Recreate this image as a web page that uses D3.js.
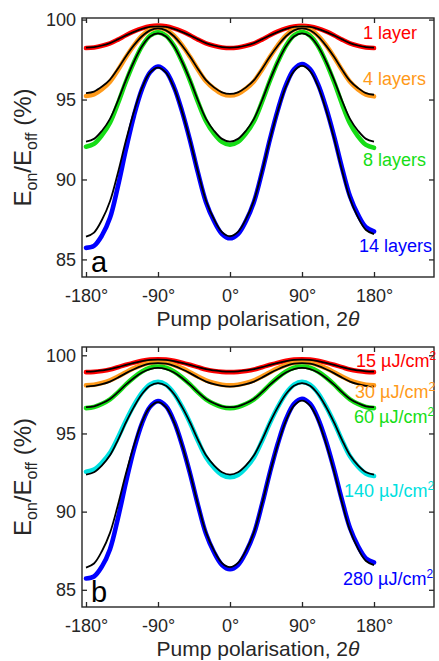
<!DOCTYPE html>
<html><head><meta charset="utf-8">
<script src="https://cdn.jsdelivr.net/npm/d3@7/dist/d3.min.js"></script>
<style>
body{margin:0;background:#fff}
svg{display:block}
text{font-family:"Liberation Sans",Arial,sans-serif}
</style>
</head><body>
<svg id="chart" width="439" height="661"></svg>
<script>
// ---------------- DATA ----------------
const angles = [-180,-170,-160,-150,-140,-130,-120,-110,-100,-90,-80,-70,-60,-50,-40,-30,-20,-10,0,10,20,30,40,50,60,70,80,90,100,110,120,130,140,150,160,170,180];
const xTickValues = [-180,-90,0,90,180];
const xTickLabels = ["-180°","-90°","0°","90°","180°"];
const yTickValues = [85,90,95,100];

// Panel a: layers
const data1 = [98.22,98.26,98.36,98.51,98.75,99.02,99.26,99.45,99.58,99.62,99.58,99.45,99.26,99.02,98.75,98.51,98.36,98.26,98.22,98.26,98.36,98.51,98.75,99.02,99.26,99.45,99.57,99.61,99.57,99.45,99.26,99.02,98.75,98.51,98.36,98.26,98.22];
const fit1  = [98.25,98.28,98.38,98.53,98.76,99.01,99.23,99.42,99.54,99.58,99.54,99.42,99.23,99.01,98.76,98.53,98.38,98.28,98.25,98.28,98.38,98.53,98.76,99.01,99.23,99.42,99.54,99.58,99.54,99.42,99.23,99.01,98.76,98.53,98.38,98.28,98.25];
const data4 = [95.22,95.33,95.65,96.12,96.85,97.66,98.39,98.99,99.37,99.50,99.37,98.99,98.40,97.67,96.87,96.14,95.68,95.36,95.25,95.36,95.68,96.15,96.87,97.68,98.41,99.01,99.39,99.52,99.39,99.00,98.40,97.66,96.84,96.11,95.63,95.31,95.20];
const fit4  = [95.40,95.50,95.81,96.25,96.94,97.71,98.40,98.96,99.33,99.45,99.33,98.96,98.38,97.69,96.91,96.21,95.76,95.45,95.35,95.45,95.76,96.21,96.91,97.69,98.38,98.96,99.33,99.45,99.33,98.95,98.37,97.67,96.88,96.17,95.72,95.40,95.30];
const data8 = [92.05,92.23,92.77,93.55,94.77,96.13,97.34,98.34,98.99,99.20,98.99,98.36,97.37,96.18,94.84,93.65,92.87,92.35,92.17,92.35,92.88,93.65,94.85,96.19,97.39,98.37,99.01,99.22,99.00,98.35,97.34,96.11,94.73,93.50,92.70,92.16,91.98];
const fit8  = [92.37,92.54,93.05,93.79,94.94,96.23,97.38,98.33,98.94,99.14,98.94,98.33,97.38,96.23,94.94,93.79,93.05,92.54,92.37,92.54,93.05,93.79,94.94,96.23,97.38,98.33,98.94,99.14,98.94,98.33,97.38,96.23,94.94,93.79,93.05,92.54,92.37];
const data14 = [85.72,85.85,86.50,87.60,89.60,91.90,94.00,95.65,96.70,97.07,96.75,95.78,94.28,92.45,90.41,88.58,87.40,86.59,86.32,86.59,87.41,88.61,90.46,92.53,94.39,95.91,96.89,97.22,96.91,95.96,94.50,92.72,90.73,88.95,87.80,87.01,86.75];
const fit14  = [86.42,86.68,87.48,88.64,90.44,92.45,94.25,95.73,96.68,97.00,96.68,95.73,94.26,92.46,90.46,88.67,87.51,86.71,86.45,86.72,87.52,88.69,90.50,92.52,94.33,95.82,96.78,97.10,96.78,95.84,94.36,92.58,90.58,88.79,87.63,86.84,86.58];

// Panel b: fluence
const data15 = [98.92,98.94,99.00,99.09,99.24,99.39,99.53,99.65,99.73,99.75,99.73,99.65,99.53,99.39,99.24,99.09,99.00,98.94,98.92,98.94,99.00,99.09,99.24,99.39,99.53,99.65,99.73,99.75,99.73,99.65,99.53,99.39,99.24,99.09,99.00,98.94,98.92];
const fit15  = [98.95,98.97,99.03,99.11,99.24,99.39,99.52,99.63,99.70,99.72,99.70,99.63,99.52,99.39,99.24,99.11,99.03,98.97,98.95,98.97,99.03,99.11,99.24,99.39,99.52,99.63,99.70,99.72,99.70,99.63,99.52,99.39,99.24,99.11,99.03,98.97,98.95];
const data30 = [98.08,98.12,98.23,98.39,98.64,98.92,99.18,99.38,99.52,99.56,99.52,99.38,99.18,98.92,98.64,98.39,98.23,98.12,98.08,98.12,98.23,98.39,98.64,98.92,99.18,99.38,99.52,99.56,99.52,99.38,99.18,98.92,98.64,98.39,98.23,98.12,98.08];
const fit30  = [98.00,98.04,98.15,98.32,98.57,98.86,99.11,99.32,99.46,99.50,99.46,99.32,99.11,98.86,98.57,98.32,98.15,98.04,98.00,98.04,98.15,98.32,98.57,98.86,99.11,99.32,99.46,99.50,99.46,99.32,99.11,98.86,98.57,98.32,98.15,98.04,98.00];
const data60 = [96.62,96.69,96.89,97.18,97.63,98.14,98.59,98.96,99.20,99.28,99.20,98.96,98.59,98.14,97.63,97.18,96.89,96.69,96.62,96.69,96.89,97.18,97.63,98.14,98.59,98.96,99.20,99.28,99.20,98.96,98.59,98.14,97.63,97.18,96.89,96.69,96.62];
const fit60  = [96.68,96.74,96.93,97.21,97.64,98.12,98.55,98.90,99.12,99.20,99.12,98.90,98.55,98.12,97.64,97.21,96.93,96.74,96.68,96.74,96.93,97.21,97.64,98.12,98.55,98.90,99.12,99.20,99.12,98.90,98.55,98.12,97.64,97.21,96.93,96.74,96.68];
const data140 = [92.55,92.69,93.13,93.76,94.74,95.83,96.81,97.61,98.13,98.30,98.12,97.57,96.71,95.68,94.52,93.48,92.81,92.35,92.20,92.35,92.81,93.48,94.52,95.68,96.71,97.57,98.12,98.30,98.12,97.58,96.73,95.71,94.57,93.54,92.88,92.43,92.28];
const fit140  = [92.37,92.52,92.96,93.60,94.59,95.71,96.70,97.52,98.05,98.22,98.05,97.52,96.70,95.71,94.59,93.60,92.96,92.52,92.37,92.52,92.96,93.60,94.59,95.71,96.70,97.52,98.05,98.22,98.05,97.52,96.70,95.71,94.59,93.60,92.96,92.52,92.37];
const data280 = [85.72,85.85,86.50,87.60,89.60,91.90,94.00,95.65,96.70,97.07,96.75,95.78,94.28,92.45,90.41,88.58,87.40,86.59,86.32,86.59,87.41,88.61,90.46,92.53,94.39,95.91,96.89,97.22,96.91,95.96,94.50,92.72,90.73,88.95,87.80,87.01,86.75];
const fit280  = [86.42,86.68,87.48,88.64,90.44,92.45,94.25,95.73,96.68,97.00,96.68,95.73,94.26,92.46,90.46,88.67,87.51,86.71,86.45,86.72,87.52,88.69,90.50,92.52,94.33,95.82,96.78,97.10,96.78,95.84,94.36,92.58,90.58,88.79,87.63,86.84,86.58];

const labelsA = ["1 layer","4 layers","8 layers","14 layers"];
const labelsB = ["15 µJ/cm","30 µJ/cm","60 µJ/cm","140 µJ/cm","280 µJ/cm"];
const colorsA = ["#ff0000","#ff9a1a","#16dd16","#0000ff"];
const colorsB = ["#ff0000","#ff9a1a","#16dd16","#00e0e0","#0000ff"];

// ---------------- DRAW ----------------
const svg = d3.select("#chart");
const ink = "#262626";
const L = 82, R = 434;

const panels = [
  {top:18, bottom:277, ydom:[83.9,100.1], letter:"a",
   series:[[data1,fit1],[data4,fit4],[data8,fit8],[data14,fit14]],
   labels:labelsA, colors:colorsA, sup:false,
   lpos:[[363,39],[363,85],[363,166],[359,252]]},
  {top:347, bottom:607, ydom:[83.9,100.53], letter:"b",
   series:[[data15,fit15],[data30,fit30],[data60,fit60],[data140,fit140],[data280,fit280]],
   labels:labelsB, colors:colorsB, sup:true,
   lpos:[[356,367],[355,398],[354,423],[344,497],[343,585]]}
];

panels.forEach(p => {
  const x = d3.scaleLinear().domain([-185,255]).range([L,R]);
  const y = d3.scaleLinear().domain(p.ydom).range([p.bottom,p.top]);
  const g = svg.append("g");
  const line = d3.line().x((d,j)=>x(angles[j])).y(d=>y(d)).curve(d3.curveCatmullRom);

  p.series.forEach((s,i) => {
    g.append("path").attr("d", line(s[0])).attr("fill","none")
      .attr("stroke", p.colors[i]).attr("stroke-width",4.6).attr("stroke-linecap","round")
      .attr("stroke-linejoin","round");
  });
  p.series.forEach((s,i) => {
    g.append("path").attr("d", line(s[1])).attr("fill","none")
      .attr("stroke","#000").attr("stroke-width",1.8);
  });

  const ax = g.append("g").attr("transform",`translate(0,${p.bottom})`)
    .call(d3.axisBottom(x).tickValues(xTickValues).tickSizeInner(-5).tickSizeOuter(0).tickPadding(12)
      .tickFormat((d,i)=>xTickLabels[i]));
  const axT = g.append("g").attr("transform",`translate(0,${p.top})`)
    .call(d3.axisTop(x).tickValues(xTickValues).tickSizeInner(-5).tickSizeOuter(0).tickFormat(""));
  const ay = g.append("g").attr("transform",`translate(${L},0)`)
    .call(d3.axisLeft(y).tickValues(yTickValues).tickSizeInner(-5).tickSizeOuter(0).tickPadding(6));
  const ayR = g.append("g").attr("transform",`translate(${R},0)`)
    .call(d3.axisRight(y).tickValues(yTickValues).tickSizeInner(-5).tickSizeOuter(0).tickFormat(""));
  [ax,axT,ay,ayR].forEach(a=>{
    a.select(".domain").remove();
    a.selectAll("line").attr("stroke",ink).attr("stroke-width",1.3);
    a.selectAll("text").attr("fill",ink).style("font-size","18px").style("font-family",'"Liberation Sans",Arial,sans-serif');
  });
  g.append("rect").attr("x",L).attr("y",p.top).attr("width",R-L).attr("height",p.bottom-p.top)
    .attr("fill","none").attr("stroke",ink).attr("stroke-width",1.4);

  const xl = g.append("text").attr("x",258).attr("y",p.bottom+49).attr("text-anchor","middle")
    .attr("fill",ink).style("font-size","21px");
  xl.append("tspan").text("Pump polarisation, 2");
  xl.append("tspan").style("font-style","italic").text("θ");

  const cy = (p.top+p.bottom)/2;
  const yl = g.append("text").attr("transform",`translate(31,${cy}) rotate(-90)`)
    .attr("text-anchor","middle").attr("fill",ink).style("font-size","24px");
  yl.append("tspan").text("E");
  yl.append("tspan").attr("dy",6).style("font-size","16px").text("on");
  yl.append("tspan").attr("dy",-6).text("/E");
  yl.append("tspan").attr("dy",6).style("font-size","16px").text("off");
  yl.append("tspan").attr("dy",-6).text(" (%)");

  g.append("text").attr("x",91).attr("y",p.bottom-5).attr("fill","#000")
    .style("font-size","29px").text(p.letter);

  p.labels.forEach((t,i)=>{
    const tx = g.append("text").attr("x",p.lpos[i][0]).attr("y",p.lpos[i][1])
      .attr("fill",p.colors[i]).style("font-size","18px");
    tx.append("tspan").text(t);
    if (p.sup) tx.append("tspan").attr("dy",-7).style("font-size","12px").text("2");
  });
});
</script>
</body></html>
